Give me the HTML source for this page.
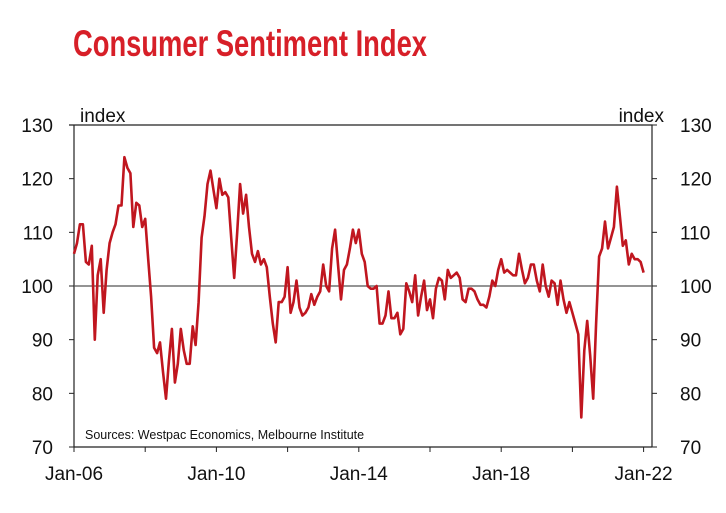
<!DOCTYPE html>
<html><head><meta charset="utf-8"><style>
body{margin:0;background:#fff;width:726px;height:508px;overflow:hidden;font-family:"Liberation Sans",Arial,sans-serif}
</style></head><body>
<svg width="726" height="508" xmlns="http://www.w3.org/2000/svg">
<text x="73" y="56" font-family="Liberation Sans Narrow, Liberation Sans, sans-serif" font-weight="bold" font-size="37" fill="#d71f28" textLength="354" lengthAdjust="spacingAndGlyphs">Consumer Sentiment Index</text>
<g id="axes"></g>
<g id="series"></g>
</svg>
<script>
const years=['Jan-06','Jan-10','Jan-14','Jan-18','Jan-22'];
const yTicks=[70,80,90,100,110,120,130];
const values=[
106,108,111.5,111.5,104.5,104,107.5,90,102,105,95,103,
108,110,111.5,115,115,124,122,121,111,115.5,115,111,
112.5,105,98,88.5,87.5,89.5,84,79,86,92,82,85.5,
92,88,85.5,85.5,92.5,89,97,109,113,119,121.5,118,
114.5,120,117,117.5,116.5,109,101.5,110,119,113.5,117,111,
106,104.5,106.5,104,105,103.5,98,93,89.5,97,97,98,
103.5,95,97,101,96,94.5,95,96,98.5,96.5,98,99,
104,100,99,107,110.5,104,97.5,103,104,107,110.5,108,
110.5,106,104.5,100,99.5,99.5,100,93,93,94.5,99,94,
94,95,91,92,100.5,99,97,102,94.5,98,101,95.5,
97.5,94,99.5,101.5,101,97.5,103,101.5,102,102.5,101.5,97.5,
97,99.5,99.5,99,97.5,96.5,96.5,96,98,101,100,103,
105,102.5,103,102.5,102,102,106,103,100.5,101.5,104,104,
101,99,104,100,98,101,100.5,96.5,101,97.5,95,97,
95,93,91,75.5,88,93.5,87,79,93,105.5,107,112,
107,109,111,118.5,113,107.5,108.5,104,106,105,105,104.5,
102.5];
const NS='http://www.w3.org/2000/svg';
const X0=74,MW=71.2/24,L=74,R=652,T=125,B=447;
const xs=i=>X0+i*MW;
const ys=v=>B-(v-70)*(B-T)/60;
function el(t,a,p){const e=document.createElementNS(NS,t);for(const k in a)e.setAttribute(k,a[k]);p.appendChild(e);return e;}
const ax=document.getElementById('axes');
const frame=el('path',{d:`M${L-5},${T}H${R}V${B}M${L},${T}V${B}H${R}`,stroke:'#222','stroke-width':1.2,fill:'none'},ax);


const base=el('line',{x1:L,x2:R,y1:ys(100),y2:ys(100),stroke:'#555','stroke-width':1.3},ax);


yTicks.forEach(v=>{
 el('line',{x1:L-5,x2:L,y1:ys(v),y2:ys(v),stroke:'#222'},ax);
 el('line',{x1:R,x2:R+5,y1:ys(v),y2:ys(v),stroke:'#222'},ax);
 const a=el('text',{x:53,y:ys(v)+7,'text-anchor':'end','font-size':19,fill:'#111'},ax);a.textContent=v;
 
 
 const b=el('text',{x:680,y:ys(v)+7,'font-size':19,fill:'#111'},ax);b.textContent=v;
 
 
});
for(let k=0;k<=8;k++){el('line',{x1:xs(k*24),x2:xs(k*24),y1:B,y2:B+5,stroke:'#222'},ax);}
years.forEach((y,k)=>{const t=el('text',{x:xs(k*48),y:480,'text-anchor':'middle','font-size':19,fill:'#111'},ax);t.textContent=y;
 
 });
const u1=el('text',{x:80,y:122,'font-size':19,fill:'#111'},ax);u1.textContent='index';


const u2=el('text',{x:664,y:122,'text-anchor':'end','font-size':19,fill:'#111'},ax);u2.textContent='index';


const src=el('text',{x:85,y:439,'font-size':12.5,fill:'#111'},ax);src.textContent='Sources: Westpac Economics, Melbourne Institute';


const line=el('polyline',{points:values.map((v,i)=>xs(i).toFixed(1)+','+ys(v).toFixed(1)).join(' '),fill:'none',stroke:'#c0161f','stroke-width':2.6,'stroke-linejoin':'round'},document.getElementById('series'));


</script>
</body></html>
